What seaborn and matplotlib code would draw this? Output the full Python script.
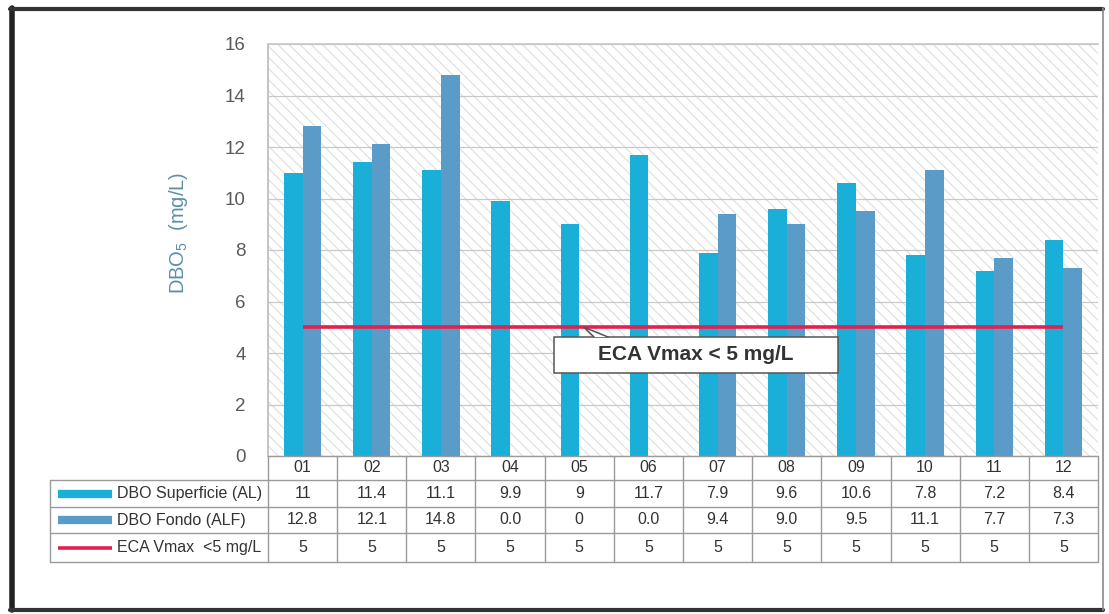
import numpy as np
import pandas as pd
import matplotlib
matplotlib.use("Agg")
import matplotlib.pyplot as plt
import matplotlib.transforms as mtransforms
from matplotlib.lines import Line2D
from matplotlib.patches import Rectangle, Polygon
import seaborn as sns

# ---------------- data ----------------
months = ["01", "02", "03", "04", "05", "06", "07", "08", "09", "10", "11", "12"]
superficie = [11.0, 11.4, 11.1, 9.9, 9.0, 11.7, 7.9, 9.6, 10.6, 7.8, 7.2, 8.4]
fondo = [12.8, 12.1, 14.8, 0.0, 0.0, 0.0, 9.4, 9.0, 9.5, 11.1, 7.7, 7.3]
eca = [5, 5, 5, 5, 5, 5, 5, 5, 5, 5, 5, 5]
superficie_labels = ["11", "11.4", "11.1", "9.9", "9", "11.7", "7.9", "9.6", "10.6", "7.8", "7.2", "8.4"]
fondo_labels = ["12.8", "12.1", "14.8", "0.0", "0", "0.0", "9.4", "9.0", "9.5", "11.1", "7.7", "7.3"]
eca_labels = ["5"] * 12
series_names = ["DBO Superficie (AL)", "DBO Fondo (ALF)", "ECA Vmax  <5 mg/L"]
yticks = [0, 2, 4, 6, 8, 10, 12, 14, 16]

c_sup = "#1AAFD9"
c_fon = "#5A9CC7"
c_eca = "#E3204F"

df = pd.DataFrame({
    "month": months * 2,
    "series": [series_names[0]] * 12 + [series_names[1]] * 12,
    "value": superficie + fondo,
})

sns.set_theme(style="white")
plt.rcParams["font.family"] = ["Liberation Sans", "DejaVu Sans"]
plt.rcParams["mathtext.fontset"] = "custom"
plt.rcParams["mathtext.rm"] = "Liberation Sans"
plt.rcParams["mathtext.it"] = "Liberation Sans"
plt.rcParams["hatch.linewidth"] = 0.8

W, H = 1109, 614
fig = plt.figure(figsize=(W / 100, H / 100), dpi=100)
fig.patch.set_facecolor("white")

def fx(px):
    return px / W

def fy(py):
    return 1 - py / H

ax = fig.add_axes([fx(268), fy(456), (1098 - 268) / W, (456 - 44) / H])
ax.set_facecolor("white")

# hatched background
bg = Rectangle((0, 0), 1, 1, transform=ax.transAxes, facecolor="white",
               edgecolor="#dedede", hatch="\\\\\\", lw=0, zorder=0)
ax.add_patch(bg)

sns.barplot(data=df, x="month", y="value", hue="series", order=months,
            hue_order=series_names[:2], palette=[c_sup, c_fon], width=0.54,
            saturation=1, legend=False, ax=ax, zorder=3, edgecolor="none")

x = np.arange(len(months))
ax.plot(x, eca, color=c_eca, lw=2.6, zorder=4, solid_capstyle="butt")

ax.set_xlim(-0.5, 11.5)
ax.set_ylim(0, 16)
ax.set_yticks(yticks)
ax.set_yticklabels([str(t) for t in yticks], fontsize=13.5, color="#5a5a5a")
ax.tick_params(axis="y", length=0, pad=16)
ax.set_xticks([])
ax.set_xlabel("")
ax.set_ylabel("")
ax.grid(axis="y", color="#c8c8c8", lw=0.9, zorder=1)
ax.set_axisbelow(True)
for s in ["right", "bottom"]:
    ax.spines[s].set_visible(False)
ax.spines["left"].set_color("#bdbdbd")
ax.spines["top"].set_color("#c8c8c8")

ax.text((178 - 268) / 830, (456 - 233) / 412, "DBO$_5$  (mg/L)",
        transform=ax.transAxes, rotation=90, ha="center", va="center",
        fontsize=14.5, color="#5A8FAA")

# ---------------- callout ----------------
def dx(px):
    return (px - 268) / (830 / 12) - 0.5

def dy(py):
    return (456 - py) / (412 / 16)

box = Rectangle((dx(554), dy(373)), dx(838) - dx(554), dy(337) - dy(373),
                facecolor="white", edgecolor="#555555", lw=1.1, zorder=6)
ax.add_patch(box)
tip = (dx(584), 5.0)
b1 = (dx(594), dy(337))
b2 = (dx(608), dy(337))
ax.add_patch(Polygon([tip, b1, b2], closed=True, facecolor="white", edgecolor="none", zorder=7))
ax.add_line(Line2D([b1[0], tip[0], b2[0]], [b1[1], tip[1], b2[1]], color="#555555", lw=1.1, zorder=7))
ax.text((dx(554) + dx(838)) / 2, (dy(373) + dy(337)) / 2, "ECA Vmax < 5 mg/L",
        ha="center", va="center", fontsize=15, fontweight="bold", color="#333333", zorder=8)

# ---------------- data table ----------------
blend = mtransforms.blended_transform_factory(ax.transData, fig.transFigure)
grid_c = "#9a9a9a"
rows_y = [456, 480, 507, 533, 562]

fig.add_artist(Line2D([fx(268), fx(1098)], [fy(456), fy(456)], color=grid_c, lw=1))
for yy in rows_y[1:]:
    fig.add_artist(Line2D([fx(50), fx(1098)], [fy(yy), fy(yy)], color=grid_c, lw=1))
fig.add_artist(Line2D([fx(50), fx(50)], [fy(480), fy(562)], color=grid_c, lw=1))
for i in range(len(months) + 1):
    ax.add_line(Line2D([i - 0.5, i - 0.5], [fy(456), fy(562)], color=grid_c, lw=1,
                       transform=blend, clip_on=False))

tkw = dict(ha="center", va="center", fontsize=11.5, color="#333333", transform=blend, clip_on=False)
for i, m in enumerate(months):
    ax.text(i, fy(468), m, **tkw)
    ax.text(i, fy(493.5), superficie_labels[i], **tkw)
    ax.text(i, fy(520), fondo_labels[i], **tkw)
    ax.text(i, fy(547.5), eca_labels[i], **tkw)

row_centers = [493.5, 520, 547.5]
sw_colors = [c_sup, c_fon, c_eca]
sw_lw = [6, 6, 2.6]
for name, yc, col, lw in zip(series_names, row_centers, sw_colors, sw_lw):
    fig.add_artist(Line2D([fx(58), fx(112)], [fy(yc), fy(yc)], color=col, lw=lw, solid_capstyle="butt"))
    fig.text(fx(117), fy(yc), name, ha="left", va="center", fontsize=11.5, color="#333333")

# ---------------- outer frame ----------------
fig.add_artist(Line2D([fx(12), fx(12)], [fy(8), fy(610)], color="#222222", lw=4))
fig.add_artist(Line2D([fx(10), fx(1103)], [fy(9), fy(9)], color="#333333", lw=3))
fig.add_artist(Line2D([fx(10), fx(1103)], [fy(610), fy(610)], color="#333333", lw=3))
fig.add_artist(Line2D([fx(1103), fx(1103)], [fy(8), fy(610)], color="#8a8a8a", lw=1.2))

fig.savefig("out.png", dpi=100)
